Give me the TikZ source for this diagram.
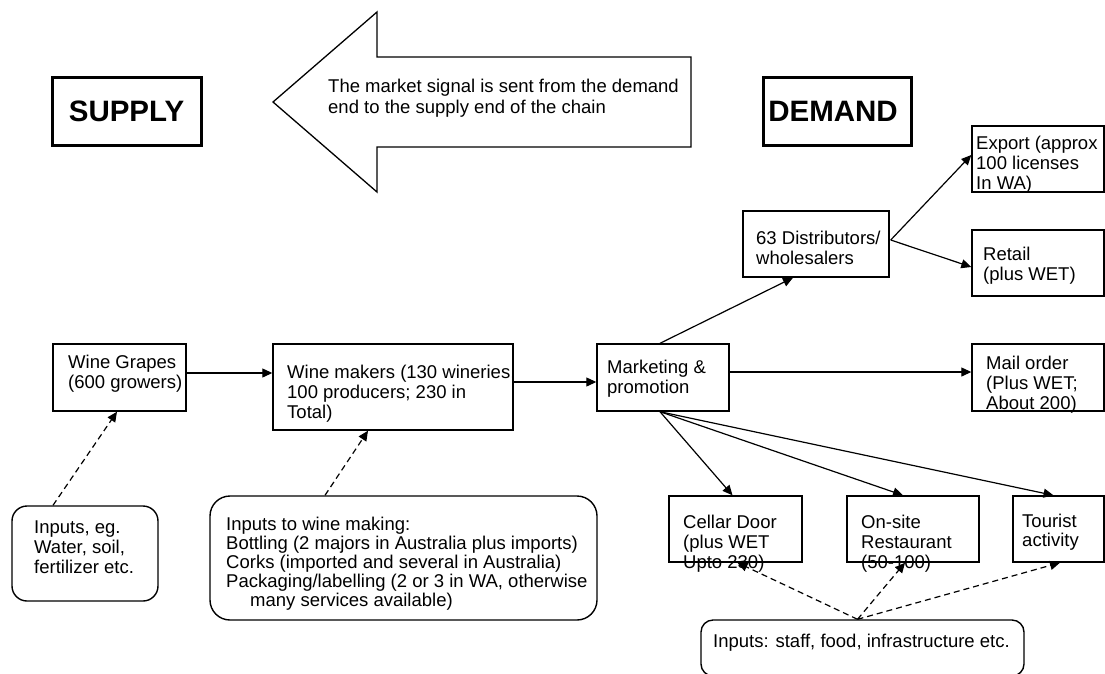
\documentclass[tikz,border=0pt]{standalone}
\usepackage{fontspec}
\setmainfont{Liberation Sans}
\usetikzlibrary{arrows.meta,calc}
\begin{document}
\begin{tikzpicture}[x=1pt,y=-1pt,
  box/.style={draw,line width=1.4pt,rectangle,inner sep=0pt},
  bigbox/.style={draw,line width=3pt,rectangle,inner sep=0pt,font=\fontsize{29.5}{32}\selectfont\bfseries},
  txt/.style={anchor=north west,inner sep=0pt,align=left,font=\fontsize{18.5}{20}\selectfont},
  arr/.style={line width=1.2pt,-{Triangle[length=10pt,width=9pt]}},
  darr/.style={arr,dash pattern=on 6pt off 4pt},
]
\clip (0,0) rectangle (1105,673);
\fill[white] (0,0) rectangle (1105,673);

% headline boxes
\node[bigbox,minimum width=149pt,minimum height=68pt] (supply) at (126.5,111) {SUPPLY};
\node[bigbox,minimum width=148pt,minimum height=68pt] (demand) at (837,111) {\hspace*{-8pt}DEMAND};

% big arrow
\draw[line width=1.3pt,line join=miter] (273,102) -- (377,12) -- (377,57) -- (691,57) -- (691,147) -- (377,147) -- (377,192) -- cycle;
\node[txt,font=\fontsize{18.5}{21}\selectfont] (signal) at (328,79) {The market signal is sent from the demand\\end to the supply end of the chain};

% boxes
\node[box,minimum width=132pt,minimum height=66pt] (export) at (1038,159) {};
\node[box,minimum width=146pt,minimum height=66pt] (dist) at (816,244) {};
\node[box,minimum width=132pt,minimum height=66pt] (retail) at (1038,263) {};
\node[box,minimum width=133pt,minimum height=67pt] (grapes) at (119.5,377.5) {};
\node[box,minimum width=240pt,minimum height=86pt] (wm) at (393,387) {};
\node[box,minimum width=132pt,minimum height=67pt] (mk) at (663,377.5) {};
\node[box,minimum width=132pt,minimum height=67pt] (mail) at (1038,377.5) {};
\node[box,rounded corners=15pt,minimum width=146pt,minimum height=95pt] (in1) at (85,553.5) {};
\node[box,rounded corners=20pt,minimum width=387pt,minimum height=124pt] (in2) at (403.5,558) {};
\node[box,minimum width=133pt,minimum height=66pt] (cellar) at (735.5,529) {};
\node[box,minimum width=132pt,minimum height=66pt] (onsite) at (913,529) {};
\node[box,minimum width=91pt,minimum height=66pt] (tourist) at (1058.5,529) {};
\node[box,rounded corners=12pt,minimum width=323pt,minimum height=56pt] (staff) at (862.5,648) {};

% texts
\node[txt] (exportT) at (976,136) {Export (approx\\100 licenses\\In WA)};
\node[txt] (distT) at (756,231) {63 Distributors/\\wholesalers};
\node[txt] (retailT) at (983,247) {Retail\\(plus WET)};
\node[txt] (grapesT) at (68,355) {Wine Grapes\\(600 growers)};
\node[txt] (wmT) at (287,365) {Wine makers (130 wineries,\\100 producers; 230 in\\Total)};
\node[txt] (mkT) at (607,360) {Marketing \&\\promotion};
\node[txt] (mailT) at (986,356) {Mail order\\(Plus WET;\\About 200)};
\node[txt] (in1T) at (34,521) {Inputs, eg.\\Water, soil,\\fertilizer etc.};
\node[txt,font=\fontsize{18.5}{19}\selectfont] (in2T) at (226,517) {Inputs to wine making:\\Bottling (2 majors in Australia plus imports)\\Corks (imported and several in Australia)\\Packaging/labelling (2 or 3 in WA, otherwise\\\hspace*{24pt}many services available)};
\node[txt] (cellarT) at (683,515) {Cellar Door\\(plus WET\\Upto 230)};
\node[txt] (onsiteT) at (861,515) {On-site\\Restaurant\\(50-100)};
\node[txt,font=\fontsize{18.5}{19}\selectfont] (touristT) at (1022,514) {Tourist\\activity};
\node[txt] (staffT) at (713,634) {Inputs: staff, food, infrastructure etc.};

% connectors
\draw[arr] ($(grapes.east)+(0,-4.5)$) -- ($(grapes.east -| wm.west)+(0,-4.5)$);
\draw[arr] ($(wm.east)+(0,-5)$) -- ($(wm.east -| mk.west)+(0,-5)$);
\draw[arr] ($(mk.north)+(-3,0)$) -- ($(dist.south)+(-23,0)$);
\coordinate (dfork) at ($(dist.east)+(1,-4)$);
\draw[arr] (dfork) -- ($(export.west)+(0,-4)$);
\draw[arr] (dfork) -- ($(retail.west)+(0,4)$);
\draw[arr] ($(mk.east)+(0,-5.5)$) -- ($(mk.east -| mail.west)+(0,-5.5)$);
\coordinate (fan) at ($(mk.south)+(-3,0)$);
\draw[arr] (fan) -- ($(cellar.north)+(-3,0)$);
\draw[arr] (fan) -- ($(onsite.north)+(-10,0)$);
\draw[arr] (fan) -- ($(tourist.north)+(-5,0)$);

\draw[darr] ($(in1.north)+(-32,0)$) -- ($(grapes.south)+(-2.5,0)$);
\draw[darr] ($(in2.north)+(-78.5,0)$) -- ($(wm.south)+(-25,0)$);
\coordinate (sfan) at ($(staff.north)+(-5,0)$);
\draw[darr] (sfan) -- ($(cellar.south)+(2,0)$);
\draw[darr] (sfan) -- ($(onsite.south)+(-8,0)$);
\draw[darr] (sfan) -- ($(tourist.south)+(1.5,0)$);
\end{tikzpicture}
\end{document}
